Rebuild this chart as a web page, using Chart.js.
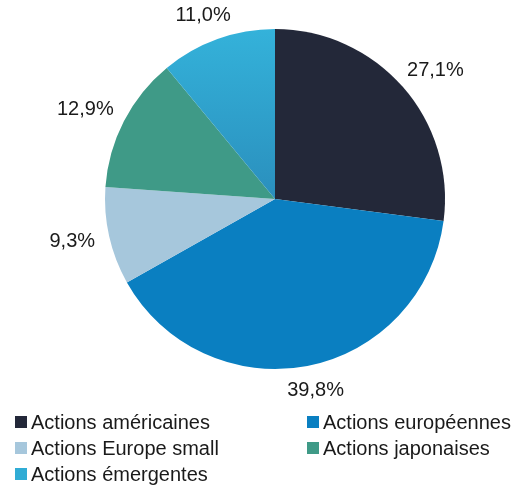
<!DOCTYPE html>
<html>
<head>
<meta charset="utf-8">
<script src="https://cdn.jsdelivr.net/npm/chart.js@4"></script>
<style>
  html, body { margin: 0; padding: 0; background: #fff; }
  #wrap { position: relative; width: 531px; height: 490px; }
  #legend {
    position: absolute; left: 15px; top: 409px;
    display: grid; grid-template-columns: 292px auto; grid-auto-rows: 26px;
    font-family: 'Liberation Sans', Arial, sans-serif; font-size: 20px; color: #1a1a1a;
  }
  .item { display: flex; align-items: center; white-space: nowrap; }
  .box { width: 12px; height: 12px; margin-right: 4px; flex: none; }
</style>
</head>
<body>
<div id="wrap">
  <canvas id="pie" width="531" height="490"></canvas>
  <div id="legend"></div>
</div>
<script>
const LABELS = ['Actions américaines', 'Actions européennes', 'Actions Europe small', 'Actions japonaises', 'Actions émergentes'];
const VALUES = [27.1, 39.8, 9.3, 12.9, 11.0];
const COLORS = ['#232839', '#0A7FC1', '#A6C7DC', '#3F9A87', '#30ACD5'];

// Outside-end percentage labels, like the Excel original
const outsideLabels = {
    id: 'outsideLabels',
    afterDatasetsDraw(chart) {
        const ctx = chart.ctx;
        const meta = chart.getDatasetMeta(0);
        ctx.save();
        ctx.font = "20px 'Liberation Sans', Arial, sans-serif";
        ctx.fillStyle = '#1a1a1a';
        ctx.textAlign = 'center';
        ctx.textBaseline = 'middle';
        meta.data.forEach((arc, i) => {
            const mid = (arc.startAngle + arc.endAngle) / 2;
            const r = arc.outerRadius + 15;
            const text = VALUES[i].toFixed(1).replace('.', ',') + '%';
            const w = ctx.measureText(text).width;
            const x = arc.x + Math.cos(mid) * r + Math.cos(mid) * w / 2;
            const y = arc.y + Math.sin(mid) * r + Math.sin(mid) * 10;
            ctx.fillText(text, x, y);
        });
        ctx.restore();
    }
};

new Chart(document.getElementById('pie'), {
    type: 'pie',
    data: {
        labels: LABELS,
        datasets: [{
            data: VALUES,
            backgroundColor: (c) => {
                if (c.dataIndex !== 4 || !c.chart.chartArea) return COLORS[c.dataIndex];
                const a = c.chart.chartArea;
                const g = c.chart.ctx.createLinearGradient(0, a.top, 0, (a.top + a.bottom) / 2);
                g.addColorStop(0, '#34B2DA');
                g.addColorStop(1, '#2A8FBD');
                return g;
            },
            borderWidth: 0
        }]
    },
    options: {
        responsive: false,
        animation: false,
        layout: { padding: { left: 105, right: 86, top: 29, bottom: 121 } },
        plugins: { legend: { display: false }, tooltip: { enabled: false } }
    },
    plugins: [outsideLabels]
});

const legend = document.getElementById('legend');
LABELS.forEach((l, i) => {
    const item = document.createElement('div');
    item.className = 'item';
    item.innerHTML = `<span class="box" style="background:${COLORS[i]}"></span>${l}`;
    legend.appendChild(item);
});
</script>
</body>
</html>
